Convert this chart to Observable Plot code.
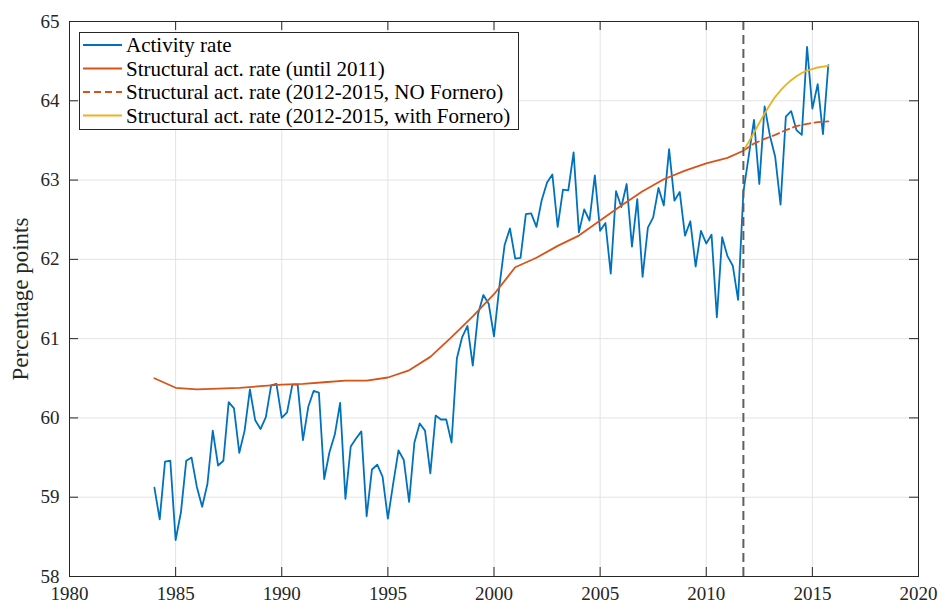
<!DOCTYPE html>
<html>
<head>
<meta charset="utf-8">
<script src="https://cdn.jsdelivr.net/npm/d3@7"></script>
<script src="https://cdn.jsdelivr.net/npm/@observablehq/plot@0.6"></script>
<style>
  html, body { margin: 0; padding: 0; background: #fff; }
  #chart svg { display: block; }
</style>
</head>
<body>
<div id="chart"></div>
<script>
// Quarterly activity rate, 1984Q1 – 2015Q4 (percentage points)
const startYear = 1984;
const activityRate = [
  59.12, 58.72, 59.45, 59.46,  // 1984
  58.46, 58.81, 59.46, 59.50,  // 1985
  59.13, 58.88, 59.17, 59.84,  // 1986
  59.40, 59.46, 60.20, 60.12,  // 1987
  59.56, 59.84, 60.36, 59.97,  // 1988
  59.86, 60.01, 60.41, 60.43,  // 1989
  60.00, 60.07, 60.42, 60.42,  // 1990
  59.72, 60.14, 60.34, 60.32,  // 1991
  59.23, 59.57, 59.79, 60.19,  // 1992
  58.98, 59.64, 59.74, 59.83,  // 1993
  58.76, 59.35, 59.41, 59.26,  // 1994
  58.73, 59.17, 59.59, 59.47,  // 1995
  58.94, 59.69, 59.93, 59.84,  // 1996
  59.30, 60.03, 59.98, 59.98,  // 1997
  59.69, 60.75, 61.02, 61.16,  // 1998
  60.66, 61.31, 61.55, 61.44,  // 1999
  61.03, 61.65, 62.18, 62.39,  // 2000
  62.01, 62.02, 62.57, 62.58,  // 2001
  62.41, 62.75, 62.97, 63.07,  // 2002
  62.41, 62.88, 62.87, 63.35,  // 2003
  62.34, 62.63, 62.49, 63.06,  // 2004
  62.36, 62.46, 61.82, 62.86,  // 2005
  62.66, 62.95, 62.16, 62.76,  // 2006
  61.78, 62.40, 62.53, 62.90,  // 2007
  62.68, 63.39, 62.74, 62.85,  // 2008
  62.30, 62.48, 61.91, 62.36,  // 2009
  62.20, 62.31, 61.27, 62.28,  // 2010
  62.04, 61.92, 61.49, 62.85,  // 2011
  63.30, 63.76, 62.95, 63.93,  // 2012
  63.56, 63.29, 62.69, 63.80,  // 2013
  63.87, 63.63, 63.57, 64.68,  // 2014
  63.90, 64.21, 63.58, 64.45   // 2015
];

// Structural activity rate, estimated up to 2011Q4
const structYears = [1984, 1985, 1986, 1987, 1988, 1989, 1990, 1991, 1992, 1993, 1994,
  1995, 1996, 1997, 1998, 1999, 2000, 2001, 2002, 2003, 2004, 2005, 2006, 2007, 2008,
  2009, 2010, 2011, 2011.75];
const structValues = [60.50, 60.38, 60.36, 60.37, 60.38, 60.40, 60.42, 60.43, 60.45, 60.47, 60.47,
  60.51, 60.60, 60.77, 61.02, 61.28, 61.56, 61.90, 62.02, 62.17, 62.30, 62.49, 62.68, 62.86, 63.01,
  63.12, 63.21, 63.28, 63.37];

// Projection 2012–2015 without the Fornero reform
const noForneroYears = [2011.75, 2012.25, 2012.75, 2013.25, 2013.75, 2014.25, 2014.75, 2015.25, 2015.75];
const noForneroValues = [63.37, 63.46, 63.52, 63.57, 63.63, 63.68, 63.71, 63.73, 63.74];

// Projection 2012–2015 with the Fornero reform
const forneroYears = [2011.75, 2012, 2012.25, 2012.5, 2012.75, 2013, 2013.25, 2013.5, 2013.75,
  2014, 2014.25, 2014.5, 2014.75, 2015, 2015.25, 2015.5, 2015.75];
const forneroValues = [63.37, 63.48, 63.60, 63.72, 63.84, 63.95, 64.05, 64.13, 64.20,
  64.26, 64.31, 64.35, 64.38, 64.40, 64.42, 64.43, 64.44];

const reformBreak = 2011.75;

const xTicks = [1980, 1985, 1990, 1995, 2000, 2005, 2010, 2015, 2020];
const yTicks = [58, 59, 60, 61, 62, 63, 64, 65];

const seriesNames = [
  "Activity rate",
  "Structural act. rate (until 2011)",
  "Structural act. rate (2012-2015, NO Fornero)",
  "Structural act. rate (2012-2015, with Fornero)"
];
const seriesColors = ["#0072BD", "#D95319", "#D95319", "#EDB120"];
const seriesDash = [null, null, "7,4", null];

const activity = activityRate.map((v, i) => ({year: startYear + i / 4, value: v}));
const structural = structYears.map((y, i) => ({year: y, value: structValues[i]}));
const noFornero = noForneroYears.map((y, i) => ({year: y, value: noForneroValues[i]}));
const withFornero = forneroYears.map((y, i) => ({year: y, value: forneroValues[i]}));

const W = 944, H = 607;
const mL = 69, mR = 26, mT = 21, mB = 31;
const plotW = W - mL - mR, plotH = H - mT - mB;
const tickLen = 9;
const axisColor = "#262626";
const gridColor = "#e3e3e3";

const chart = Plot.plot({
  width: W,
  height: H,
  marginLeft: mL,
  marginRight: mR,
  marginTop: mT,
  marginBottom: mB,
  style: {fontFamily: "'Liberation Serif', serif", fontSize: "19px", color: axisColor, background: "#fff"},
  x: {domain: [1980, 2020], label: null},
  y: {domain: [58, 65], label: null},
  marks: [
    Plot.ruleX(xTicks, {x: d => d, stroke: gridColor, strokeWidth: 1}),
    Plot.ruleY(yTicks, {y: d => d, stroke: gridColor, strokeWidth: 1}),
    Plot.axisX(xTicks, {tickSize: 0, tickPadding: 10, tickFormat: d => String(d), label: null, fontSize: 19}),
    Plot.axisY(yTicks, {tickSize: 0, tickPadding: 10, tickFormat: d => String(d), label: null, fontSize: 19}),
    Plot.line(activity, {x: "year", y: "value", stroke: seriesColors[0], strokeWidth: 1.8}),
    Plot.line(structural, {x: "year", y: "value", stroke: seriesColors[1], strokeWidth: 1.8}),
    Plot.line(noFornero, {x: "year", y: "value", stroke: seriesColors[2], strokeWidth: 1.8, strokeDasharray: seriesDash[2]}),
    Plot.line(withFornero, {x: "year", y: "value", stroke: seriesColors[3], strokeWidth: 1.8}),
    Plot.ruleX([reformBreak], {x: d => d, stroke: "#5f5f5f", strokeWidth: 2, strokeDasharray: "9,5"}),
    // inward tick marks on all four sides of the box
    Plot.tickX(xTicks, {x: d => d, insetTop: plotH - tickLen, stroke: axisColor}),
    Plot.tickX(xTicks, {x: d => d, insetBottom: plotH - tickLen, stroke: axisColor}),
    Plot.tickY(yTicks, {y: d => d, insetRight: plotW - tickLen, stroke: axisColor}),
    Plot.tickY(yTicks, {y: d => d, insetLeft: plotW - tickLen, stroke: axisColor}),
    Plot.frame({stroke: axisColor, strokeWidth: 1}),
    Plot.text(["Percentage points"], {frameAnchor: "left", textAnchor: "middle", rotate: -90, dx: -49, fontSize: 23, fill: axisColor})
  ]
});

// Legend box in the upper-left corner of the axes
const svg = d3.select(chart);
const legend = svg.append("g")
  .attr("font-family", "'Liberation Serif', serif")
  .attr("font-size", 21)
  .attr("text-anchor", "start");
const lx = 79, ly = 32, lw = 439, lh = 97, rowH = 23.5, row0 = 45;
legend.append("rect")
  .attr("x", lx + 0.5).attr("y", ly + 0.5).attr("width", lw).attr("height", lh)
  .attr("fill", "#fff").attr("stroke", axisColor).attr("stroke-width", 1);
seriesNames.forEach((name, i) => {
  const y = row0 + i * rowH;
  legend.append("line")
    .attr("x1", 83).attr("x2", 122).attr("y1", y).attr("y2", y)
    .attr("stroke", seriesColors[i]).attr("stroke-width", 1.8)
    .attr("stroke-dasharray", seriesDash[i]);
  legend.append("text")
    .attr("x", 126).attr("y", y).attr("dy", "0.35em")
    .attr("text-anchor", "start")
    .attr("fill", "#000")
    .text(name);
});

document.getElementById("chart").appendChild(chart);
</script>
</body>
</html>
